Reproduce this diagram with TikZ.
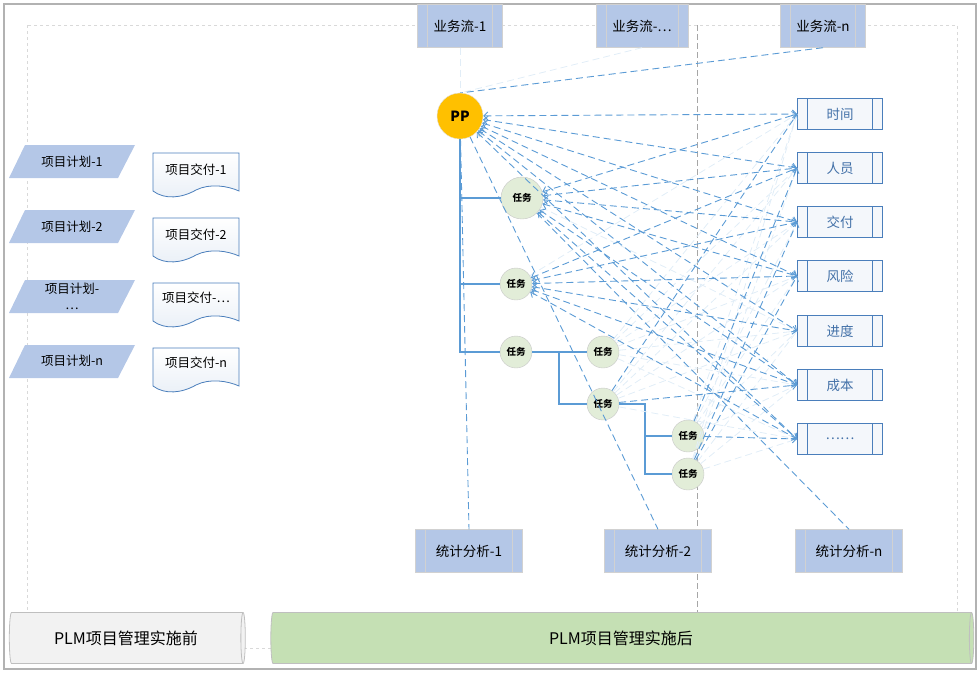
\documentclass[tikz,border=0pt]{standalone}
\usepackage{fontspec}
\setmainfont{Noto Sans CJK SC}
\usetikzlibrary{arrows.meta,shapes.geometric}

\definecolor{flowfill}{RGB}{180,199,231}
\definecolor{ppfill}{RGB}{255,192,0}
\definecolor{taskfill}{RGB}{226,237,216}
\definecolor{linkblue}{RGB}{91,155,213}
\definecolor{boxblue}{RGB}{74,126,187}
\definecolor{afterfill}{RGB}{197,224,180}
\definecolor{beforefill}{RGB}{242,242,242}
\definecolor{framegray}{RGB}{178,178,178}

\tikzset{
  flow/.style={draw=black!18, fill=flowfill, minimum height=43pt, inner sep=0pt,
    font=\fontsize{13.5}{15}\selectfont,
    path picture={
      \draw[black!18] ([xshift=10pt]path picture bounding box.north west) -- ([xshift=10pt]path picture bounding box.south west);
      \draw[black!18] ([xshift=-10pt]path picture bounding box.north east) -- ([xshift=-10pt]path picture bounding box.south east);}},
  factor/.style={draw=boxblue, line width=0.9pt, fill=boxblue!6, minimum width=85pt, minimum height=31pt,
    inner sep=0pt, text=boxblue!90!black, font=\fontsize{13.5}{15}\selectfont,
    path picture={
      \draw[boxblue, line width=0.9pt] ([xshift=10pt]path picture bounding box.north west) -- ([xshift=10pt]path picture bounding box.south west);
      \draw[boxblue, line width=0.9pt] ([xshift=-10pt]path picture bounding box.north east) -- ([xshift=-10pt]path picture bounding box.south east);}},
  pp/.style={circle, draw=black!12, fill=ppfill, minimum size=46pt, inner sep=0pt,
    font=\fontsize{14}{16}\bfseries},
  task/.style={circle, draw=black!22, fill=taskfill, minimum size=32pt, inner sep=0pt,
    font=\fontsize{9.5}{11}\bfseries},
  plantext/.style={font=\fontsize{12.5}{16}\selectfont, align=center, inner sep=0pt},
  doc/.style={draw=boxblue, line width=0.8pt, top color=white, bottom color=boxblue!12},
  stage/.style={cylinder, draw=black!25, line width=0.8pt, minimum width=51pt, aspect=0.3,
    inner sep=0pt, font=\fontsize{16}{18}\selectfont},
  tree/.style={draw=linkblue, line width=1.7pt},
  link/.style={draw=linkblue, line width=0.9pt, dash pattern=on 7pt off 4pt},
  faint/.style={draw=linkblue!18, line width=0.8pt, dash pattern=on 7pt off 4pt},
  twoway/.style={{Straight Barb[length=4pt,width=8pt]}-{Straight Barb[length=4pt,width=8pt]}},
  oneway/.style={-{Straight Barb[length=4pt,width=8pt]}}
}

\begin{document}
\begin{tikzpicture}[x=1pt, y=-1pt]
\useasboundingbox (0,0) rectangle (980,673);
\draw[framegray, line width=1.2pt] (4,4) rectangle (976,669);
\draw[black!15, dashed] (27,25) rectangle (957,648);
\draw[black!35, dash pattern=on 6pt off 3pt] (697,25) -- (697,612);

\fill[flowfill] (9,178) -- (25,145) -- (135,145) -- (118,178) -- cycle;
\fill[flowfill] (9,243) -- (25,210) -- (135,210) -- (118,243) -- cycle;
\fill[flowfill] (9,313) -- (25,280) -- (135,280) -- (118,313) -- cycle;
\fill[flowfill] (9,378) -- (25,345) -- (135,345) -- (118,378) -- cycle;
\node[plantext] (p1) at (72,162) {项目计划-1};
\node[plantext] (p2) at (72,227) {项目计划-2};
\node[plantext] (p3) at (72,296) {项目计划-\\…};
\node[plantext] (p4) at (72,361) {项目计划-n};

\draw[doc] (153,153) -- (239,153) -- (239,191) .. controls (228,186) and (210,183) .. (196,190) .. controls (182,198) and (165,200) .. (153,191) -- cycle;
\draw[doc] (153,218) -- (239,218) -- (239,256) .. controls (228,251) and (210,248) .. (196,255) .. controls (182,263) and (165,265) .. (153,256) -- cycle;
\draw[doc] (153,283) -- (239,283) -- (239,321) .. controls (228,316) and (210,313) .. (196,320) .. controls (182,328) and (165,330) .. (153,321) -- cycle;
\draw[doc] (153,348) -- (239,348) -- (239,386) .. controls (228,381) and (210,378) .. (196,385) .. controls (182,393) and (165,395) .. (153,386) -- cycle;
\node[plantext] (d1) at (196,170) {项目交付-1};
\node[plantext] (d2) at (196,235) {项目交付-2};
\node[plantext] (d3) at (196,298) {项目交付-⋯};
\node[plantext] (d4) at (196,363) {项目交付-n};

\node[flow, minimum width=85pt] (b1) at (460,26) {业务流-1};
\node[flow, minimum width=92pt] (bm) at (642,26) {业务流-⋯};
\node[flow, minimum width=85pt] (bn) at (823,26) {业务流-n};
\node[flow, minimum width=107pt] (s1) at (469,551) {统计分析-1};
\node[flow, minimum width=107pt] (s2) at (658,551) {统计分析-2};
\node[flow, minimum width=107pt] (sn) at (849,551) {统计分析-n};

\node[factor] (r1) at (840,114) {时间};
\node[factor] (r2) at (840,168) {人员};
\node[factor] (r3) at (840,222) {交付};
\node[factor] (r4) at (840,276) {风险};
\node[factor] (r5) at (840,331) {进度};
\node[factor] (r6) at (840,385) {成本};
\node[factor] (r7) at (840,439) {……};

\node[stage, fill=beforefill, minimum height=236pt] (before) at (126,638) {PLM项目管理实施前};
\node[stage, fill=afterfill, minimum height=703pt] (after) at (621,638) {PLM项目管理实施后};

\draw[faint] (b1) -- (460,93);
\draw[faint] (bm.south) -- (460,93);
\draw[link] (bn.south) -- (460,93);

\node[pp] (pp) at (460,116) {PP};
\node[task, minimum size=42pt] (t1) at (522,198) {任务};
\node[task] (t2) at (516,284) {任务};
\node[task] (t3) at (516,352) {任务};
\node[task] (t4) at (603,352) {任务};
\node[task] (t5) at (603,404) {任务};
\node[task] (t6) at (688,436) {任务};
\node[task] (t7) at (688,474) {任务};
\coordinate (j1) at (559,352);
\coordinate (j2) at (645,404);

\draw[tree] (pp.south) |- (t3.west);
\draw[tree] (pp.south) |- (t1.west);
\draw[tree] (pp.south) |- (t2.west);
\draw[tree] (t3) -- (t4);
\draw[tree] (j1) |- (t5.west);
\draw[tree] (t5.east) -- (j2) |- (t7.west);
\draw[tree] (j2) |- (t6.west);

\draw[faint] (t4) -- (r1.west);
\draw[faint] (t4) -- (r2.west);
\draw[faint] (t4) -- (r3.west);
\draw[faint] (t4) -- (r4.west);
\draw[faint] (t4) -- (r5.west);
\draw[faint] (t4) -- (r6.west);
\draw[faint] (t4) -- (r7.west);
\draw[faint] (t5) -- (r2.west);
\draw[faint] (t5) -- (r3.west);
\draw[faint] (t5) -- (r4.west);
\draw[faint] (t5) -- (r5.west);
\draw[faint] (t5) -- (r7.west);
\draw[faint] (t6) -- (r1.west);
\draw[faint] (t6) -- (r3.west);
\draw[faint] (t6) -- (r4.west);
\draw[faint] (t6) -- (r5.west);
\draw[faint] (t6) -- (r6.west);
\draw[faint] (t7) -- (r1.west);
\draw[faint] (t7) -- (r2.west);
\draw[faint] (t7) -- (r5.west);
\draw[faint] (t7) -- (r6.west);
\draw[faint] (t7) -- (r7.west);
\draw[faint] (t1) -- (r5.west);
\draw[faint] (t2) -- (r1.west);

\draw[link] (pp) -- (s1.north);
\draw[link] (pp) -- (s2.north);
\draw[link] (t1) -- (sn.north);

\draw[link, twoway] (pp) -- (r1.west);
\draw[link, twoway] (pp) -- (r2.west);
\draw[link, twoway] (pp) -- (r3.west);
\draw[link, twoway] (pp) -- (r4.west);
\draw[link, twoway] (pp) -- (r5.west);
\draw[link, twoway] (pp) -- (r6.west);
\draw[link, twoway] (pp) -- (r7.west);
\draw[link, twoway] (t1) -- (r1.west);
\draw[link, twoway] (t1) -- (r2.west);
\draw[link, twoway] (t1) -- (r3.west);
\draw[link, twoway] (t1) -- (r4.west);
\draw[link, twoway] (t1) -- (r6.west);
\draw[link, twoway] (t1) -- (r7.west);
\draw[link, twoway] (t2) -- (r2.west);
\draw[link, twoway] (t2) -- (r3.west);
\draw[link, twoway] (t2) -- (r4.west);
\draw[link, twoway] (t2) -- (r5.west);
\draw[link, twoway] (t2) -- (r6.west);
\draw[link, twoway] (t2) -- (r7.west);
\draw[link, oneway] (t5) -- (r1.west);
\draw[link, oneway] (t5) -- (r6.west);
\draw[link, oneway] (t6) -- (r2.west);
\draw[link, oneway] (t6) -- (r7.west);
\draw[link, oneway] (t7) -- (r3.west);
\draw[link, oneway] (t7) -- (r4.west);
\end{tikzpicture}
\end{document}
